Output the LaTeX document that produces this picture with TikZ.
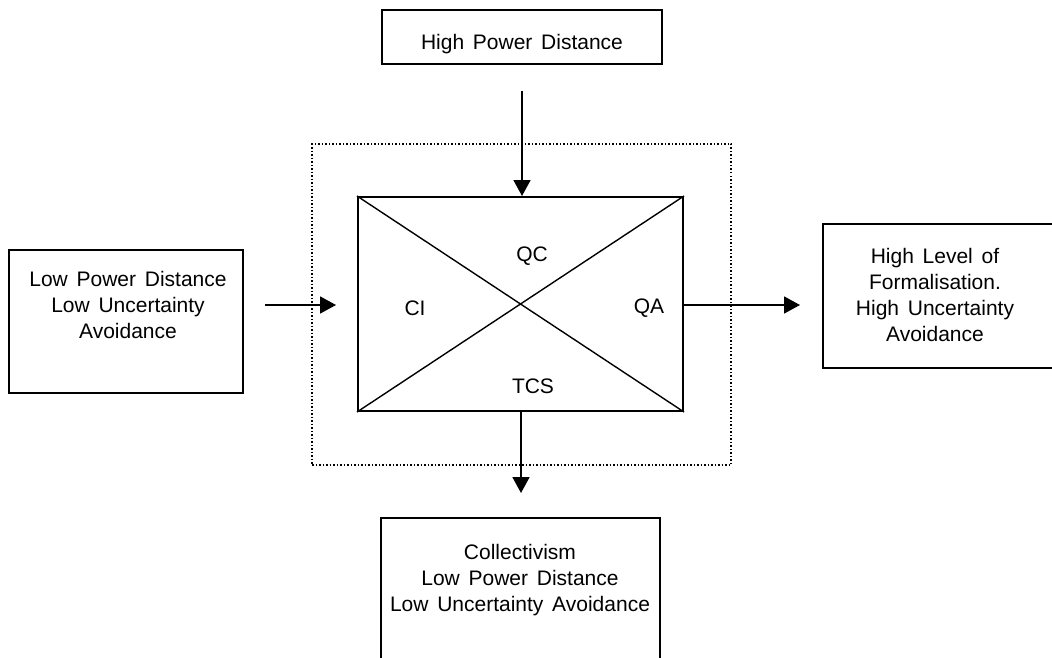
\documentclass[tikz,border=0pt]{standalone}
\usepackage{fontspec}
\setmainfont[WordSpace=1.5]{Liberation Sans}
\usetikzlibrary{arrows.meta}
\begin{document}
\begin{tikzpicture}[x=1pt,y=-1pt,
  box/.style={draw,line width=2pt,rectangle,inner sep=0pt},
  txt/.style={align=center,inner sep=0pt,font=\fontsize{21}{26}\selectfont},
  arr/.style={line width=1.8pt,-{Triangle[length=16pt,width=17pt]}},
  diag/.style={line width=1.4pt}]
\useasboundingbox (0,0) rectangle (1052,658);
\begin{scope}
\clip (0,0) rectangle (1052,658);
% dotted frame
\node[draw,dotted,line width=1.5pt,minimum width=419pt,minimum height=321pt,inner sep=0pt] (frame) at (521.5,304.5) {};
% main box
\node[box,minimum width=325pt,minimum height=214pt] (main) at (520.5,304) {};
\draw[diag] (main.north west) -- (main.south east);
\draw[diag] (main.south west) -- (main.north east);
\node[txt] (qc) at (532,256) {QC};
\node[txt] (ci) at (415,308) {CI};
\node[txt] (qa) at (649,308) {QA};
\node[txt] (tcs) at (533,386) {TCS};
% top box
\node[box,minimum width=280pt,minimum height=54pt] (top) at (522,37) {};
\node[txt] (toptxt) at (522,44) {High Power Distance};
% left box
\node[box,minimum width=234pt,minimum height=143pt] (left) at (126,321.5) {};
\node[txt] (lefttxt) at (128,305) {Low Power Distance\\Low Uncertainty\\Avoidance};
% right box
\node[box,minimum width=290pt,minimum height=144pt] (right) at (968,296) {};
\node[txt] (righttxt) at (935,295) {High Level of\\Formalisation.\\High Uncertainty\\Avoidance};
% bottom box
\node[box,minimum width=279pt,minimum height=190pt] (bottom) at (520.5,613) {};
\node[txt] (bottomtxt) at (520,580) {Collectivism\\Low Power Distance\\Low Uncertainty Avoidance};
% arrows
\coordinate (ta) at (522,91);
\draw[arr] (ta) -- (ta |- main.north);
\coordinate (la) at (265,305);
\coordinate (lb) at (336,305);
\draw[arr] (la) -- (lb);
\coordinate (rb) at (800,305);
\draw[arr] (main.east |- rb) -- (rb);
\coordinate (bb) at (521,493);
\draw[arr] (main.south -| bb) -- (bb);
\end{scope}
\end{tikzpicture}
\end{document}
